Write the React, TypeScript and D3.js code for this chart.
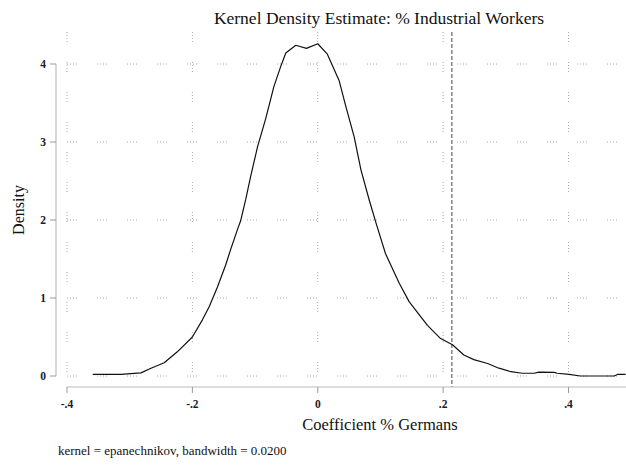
import React from "react";
import * as d3 from "d3";

const coefX = [-0.359,-0.314,-0.298,-0.282,-0.266,-0.245,-0.224,-0.2,-0.184,-0.173,-0.16,-0.147,-0.139,-0.128,-0.123,-0.115,-0.107,-0.096,-0.083,-0.07,-0.059,-0.051,-0.035,-0.018,0.0,0.015,0.034,0.045,0.058,0.069,0.082,0.093,0.108,0.13,0.146,0.175,0.196,0.215,0.233,0.249,0.271,0.289,0.308,0.326,0.345,0.353,0.377,0.382,0.401,0.419,0.473,0.478,0.491];
const density = [0.02,0.02,0.03,0.04,0.1,0.17,0.31,0.5,0.72,0.89,1.14,1.42,1.62,1.88,1.99,2.26,2.56,2.94,3.3,3.71,3.97,4.14,4.24,4.2,4.26,4.13,3.79,3.45,3.07,2.64,2.26,1.96,1.57,1.19,0.95,0.65,0.48,0.4,0.27,0.21,0.16,0.1,0.055,0.035,0.035,0.05,0.047,0.035,0.02,0.0,0.0,0.02,0.02];
const xTicks = [-0.4, -0.2, 0, 0.2, 0.4];
const xTickLabels = ["-.4", "-.2", "0", ".2", ".4"];
const yTicks = [0, 1, 2, 3, 4];
const refLine = 0.214;
const title = "Kernel Density Estimate: % Industrial Workers";
const xTitle = "Coefficient % Germans";
const yTitle = "Density";
const note = "kernel = epanechnikov, bandwidth = 0.0200";

export default function App() {
  const W = 626, H = 467;
  const x = d3.scaleLinear().domain([-0.4, 0.4]).range([67, 568.5]);
  const y = d3.scaleLinear().domain([0, 4]).range([376, 64]);
  const plotTop = 32, plotRight = 626, axisY = 387, axisX = 56;
  const pts = coefX.map((v, i) => [v, density[i]] as [number, number]);
  const line = d3.line<[number, number]>().x(d => x(d[0])).y(d => y(d[1]));
  const serif = "'Liberation Serif', 'Times New Roman', serif";
  const dots = "1,2,1,2,1,2,1,20";
  return (
    <svg width={W} height={H} style={{ position: "absolute", left: 0, top: 0, background: "#fff" }} fontFamily={serif}>
      {/* grid */}
      {yTicks.map(t => (
        <line key={"gy" + t} x1={x(-0.4)} x2={plotRight} y1={y(t)} y2={y(t)} stroke="#a8a8a8" strokeWidth={1} strokeDasharray={dots} />
      ))}
      {xTicks.map(t => (
        <line key={"gx" + t} x1={x(t)} x2={x(t)} y1={plotTop} y2={y(0)} stroke="#a8a8a8" strokeWidth={1} strokeDasharray={dots} />
      ))}
      {/* reference line */}
      <line x1={x(refLine)} x2={x(refLine)} y1={plotTop} y2={axisY} stroke="#444" strokeWidth={1} strokeDasharray="4,2" />
      {/* curve */}
      <path d={line(pts) || ""} fill="none" stroke="#111" strokeWidth={1.2} strokeLinejoin="round" />
      {/* y axis */}
      <line x1={axisX} x2={axisX} y1={y(4)} y2={y(0)} stroke="#bbb" strokeWidth={1.2} />
      {yTicks.map(t => (
        <g key={"yt" + t}>
          <line x1={axisX - 6} x2={axisX} y1={y(t)} y2={y(t)} stroke="#999" strokeWidth={1} />
          <text x={axisX - 10} y={y(t) + 4} textAnchor="end" fontSize={11.5} fontWeight="bold" fill="#1a1a2a">{t}</text>
        </g>
      ))}
      {/* x axis */}
      <line x1={x(-0.4)} x2={plotRight} y1={axisY} y2={axisY} stroke="#bbb" strokeWidth={1.2} />
      {xTicks.map((t, i) => (
        <g key={"xt" + t}>
          <line x1={x(t)} x2={x(t)} y1={axisY} y2={axisY + 6} stroke="#999" strokeWidth={1} />
          <text x={x(t)} y={axisY + 21} textAnchor="middle" fontSize={11.5} fontWeight="bold" fill="#1a1a2a">{xTickLabels[i]}</text>
        </g>
      ))}
      {/* titles */}
      <text x={379} y={24} textAnchor="middle" fontSize={17.5} fill="#111">{title}</text>
      <text x={380} y={430} textAnchor="middle" fontSize={16.5} fill="#111">{xTitle}</text>
      <text transform={`translate(24,210) rotate(-90)`} textAnchor="middle" fontSize={16} fill="#111">{yTitle}</text>
      <text x={58} y={455} fontSize={13} fill="#111">{note}</text>
    </svg>
  );
}
